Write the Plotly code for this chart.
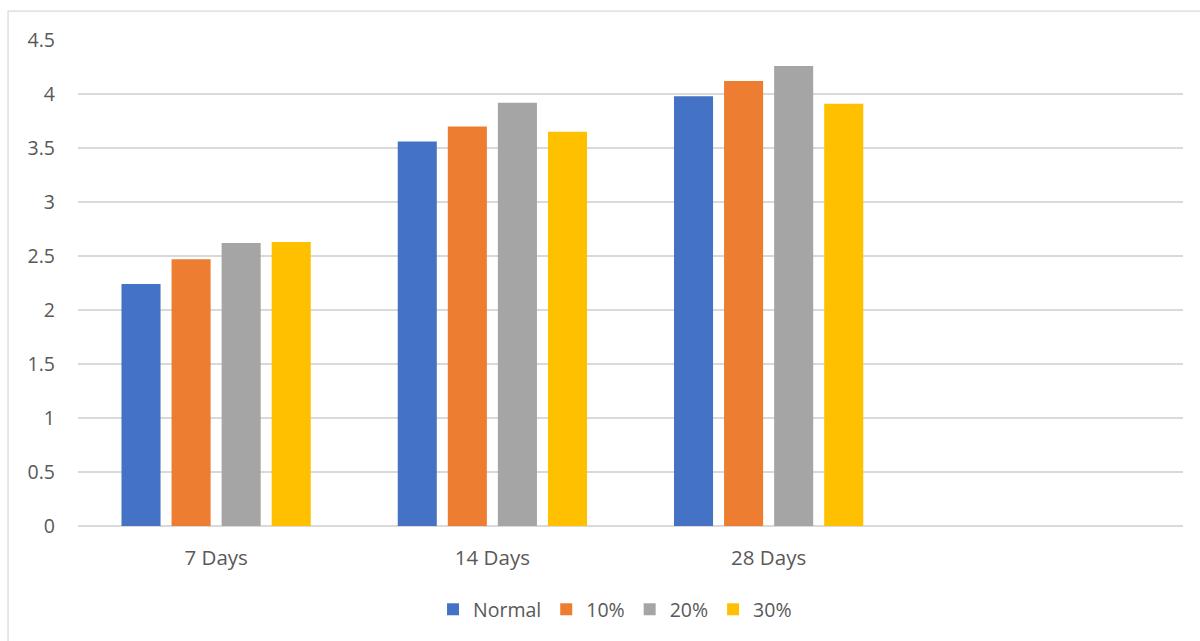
import plotly.graph_objects as go

# Curing ages (the fourth slot is an empty category, as in the source workbook)
categories = ["7 Days", "14 Days", "28 Days", " "]
series_names = ["Normal", "10%", "20%", "30%"]
normal = [2.24, 3.56, 3.98, None]
pct10 = [2.47, 3.70, 4.12, None]
pct20 = [2.62, 3.92, 4.26, None]
pct30 = [2.63, 3.65, 3.91, None]
y_ticks = [0, 0.5, 1, 1.5, 2, 2.5, 3, 3.5, 4, 4.5]
y_tick_text = ["0", "0.5", "1", "1.5", "2", "2.5", "3", "3.5", "4", "4.5"]

colors = ["#4472C4", "#ED7D31", "#A5A5A5", "#FFC000"]
text_color = "#595959"
grid_color = "#D9D9D9"
font_family = "Open Sans"

fig = go.Figure()
for name, vals, col in zip(series_names, [normal, pct10, pct20, pct30], colors):
    fig.add_trace(go.Bar(
        x=categories, y=vals, name=name,
        marker=dict(color=col, line=dict(width=0)),
    ))

fig.update_layout(
    width=1200, height=641,
    margin=dict(l=78, r=17, t=40, b=114.5),
    paper_bgcolor="white", plot_bgcolor="white",
    barmode="group", bargap=0.275, bargroupgap=0.22,
    font=dict(family=font_family, size=19, color=text_color),
    showlegend=True,
    legend=dict(
        orientation="h", x=0.486, xanchor="center", y=-0.172, yanchor="middle",
        font=dict(family=font_family, size=19.5, color=text_color),
        itemwidth=30, traceorder="normal",
    ),
    xaxis=dict(
        type="category", showgrid=False, showline=False, ticks="",
        tickfont=dict(family=font_family, size=20.5, color=text_color),
        ticklabelstandoff=17,
    ),
    yaxis=dict(
        range=[0, 4.5], tickvals=y_ticks, ticktext=y_tick_text,
        showgrid=True, gridcolor=grid_color, gridwidth=1.5,
        zeroline=True, zerolinecolor=grid_color, zerolinewidth=1.5,
        showline=False, ticks="",
        tickfont=dict(family=font_family, size=19.5, color=text_color),
        ticklabelstandoff=22,
    ),
)

# Light chart-area border
fig.add_shape(
    type="rect", xref="paper", yref="paper",
    x0=-0.0633, x1=1.03, y0=-0.26, y1=1.0596,
    line=dict(color="#D9D9D9", width=1.2), fillcolor="rgba(0,0,0,0)", layer="below",
)

fig.write_html("out.html")
